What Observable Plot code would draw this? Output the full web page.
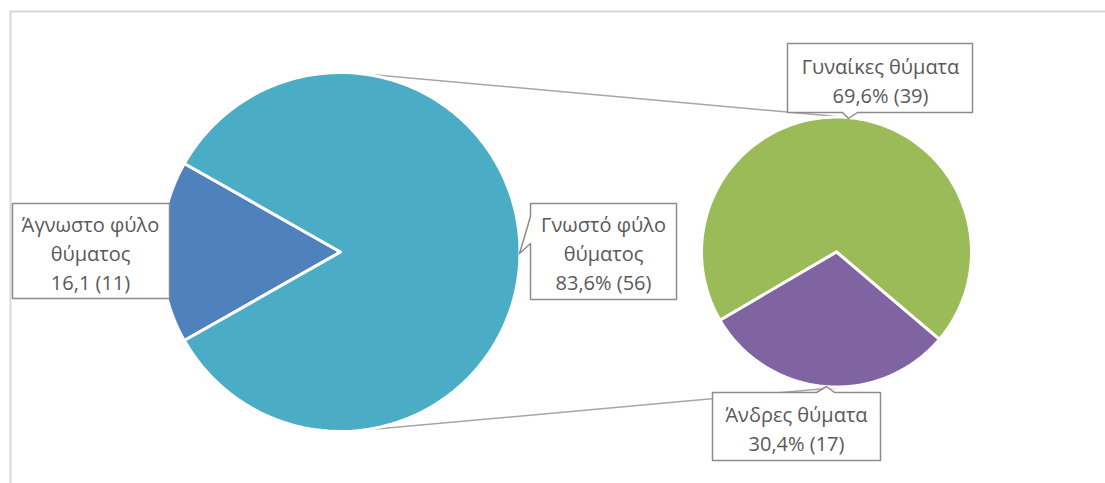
<!DOCTYPE html>
<html>
<head>
<meta charset="utf-8">
<script src="https://cdn.jsdelivr.net/npm/d3@7"></script>
<script src="https://cdn.jsdelivr.net/npm/@observablehq/plot@0.6"></script>
<style>
  html, body { margin: 0; padding: 0; background: #fff; }
  #chart svg { display: block; }
</style>
</head>
<body>
<div id="chart"></div>
<script>
// ---- data ----
const mainCategories = ["Άγνωστο φύλο\nθύματος", "Γνωστό φύλο\nθύματος"];
const mainCounts = [11, 56];
const mainPercentLabels = ["16,1", "83,6%"];
const subCategories = ["Γυναίκες θύματα", "Άνδρες θύματα"];
const subCounts = [39, 17];
const subPercentLabels = ["69,6%", "30,4%"];
const mainColors = ["#4f81bd", "#4bacc6"];
const subColors = ["#9bbb59", "#8064a2"];

// ---- layout ----
const W = 1105, H = 483;
const C1 = {x: 340, y: 251.5, r: 179.5};
const C2 = {x: 836, y: 251.5, r: 135};
const textColor = "#595959";
const boxStroke = "#8c8c8c";
const font = "Open Sans";
const fs = 20;

function slices(counts, colors, c, startAngle) {
  const arcs = d3.pie().sort(null).startAngle(startAngle).endAngle(startAngle + 2 * Math.PI)(counts);
  return arcs.map((a, i) => {
    const n = 160;
    const pts = [{x: c.x, y: c.y}];
    for (let k = 0; k <= n; k++) {
      const t = a.startAngle + (a.endAngle - a.startAngle) * k / n;
      pts.push({x: c.x + c.r * Math.sin(t), y: c.y - c.r * Math.cos(t)});
    }
    pts.push({x: c.x, y: c.y});
    return {pts, color: colors[i]};
  });
}

const mainTotal = d3.sum(mainCounts);
const subTotal = d3.sum(subCounts);
// left pie: unknown-sex slice centred to the left
const mainStart = 1.5 * Math.PI - Math.PI * mainCounts[0] / mainTotal;
// right pie: men slice centred slightly left of bottom
const subStart = (185 / 180) * Math.PI - Math.PI * subCounts[1] / subTotal - 2 * Math.PI * subCounts[0] / subTotal;

const mainSlices = slices(mainCounts, mainColors, C1, mainStart);
const subSlices = slices(subCounts, subColors, C2, subStart);

// external tangent connector lines
const d = C2.x - C1.x;
const alpha = Math.asin((C1.r - C2.r) / d);
const connectors = [-1, 1].map(s => [
  {x: C1.x + C1.r * Math.sin(alpha), y: C1.y + s * C1.r * Math.cos(alpha)},
  {x: C2.x + C2.r * Math.sin(alpha), y: C2.y + s * C2.r * Math.cos(alpha)}
]);

// callout boxes (outline polygons)
function rectPts(x0, y0, x1, y1, pointer) {
  let pts = [{x: x0, y: y0}];
  if (pointer && pointer.side === "top") pts.push(...pointer.pts);
  pts.push({x: x1, y: y0}, {x: x1, y: y1});
  if (pointer && pointer.side === "bottom") pts.push(...pointer.pts);
  pts.push({x: x0, y: y1});
  if (pointer && pointer.side === "left") pts.push(...pointer.pts);
  pts.push({x: x0, y: y0});
  return pts;
}
const boxes = [
  {pts: rectPts(12, 203, 169, 298), cx: 90, cy: 251,
   text: mainCategories[0] + "\n" + mainPercentLabels[0] + " (" + mainCounts[0] + ")"},
  {pts: rectPts(530, 203, 676, 299, {side: "left", pts: [{x: 530, y: 243}, {x: 519, y: 253}, {x: 530, y: 216}]}), cx: 603, cy: 251,
   text: mainCategories[1] + "\n" + mainPercentLabels[1] + " (" + mainCounts[1] + ")"},
  {pts: rectPts(787, 43, 972, 112, {side: "bottom", pts: [{x: 857, y: 112}, {x: 848, y: 118}, {x: 842, y: 112}]}), cx: 880, cy: 79,
   text: subCategories[0] + "\n" + subPercentLabels[0] + " (" + subCounts[0] + ")"},
  {pts: rectPts(712, 392, 880, 460, {side: "top", pts: [{x: 816, y: 392}, {x: 826, y: 386}, {x: 834, y: 392}]}), cx: 796, cy: 427,
   text: subCategories[1] + "\n" + subPercentLabels[1] + " (" + subCounts[1] + ")"}
];

const marks = [
  // chart frame (top and left edges)
  Plot.line([{x: 10, y: 11}, {x: 1104, y: 11}], {x: "x", y: "y", stroke: "#d9d9d9", strokeWidth: 2}),
  Plot.line([{x: 10, y: 11}, {x: 10, y: 483}], {x: "x", y: "y", stroke: "#d9d9d9", strokeWidth: 2}),
  ...connectors.map(c => Plot.line(c, {x: "x", y: "y", stroke: "#a6a6a6", strokeWidth: 1.5})),
  ...mainSlices.map(s => Plot.line(s.pts, {x: "x", y: "y", fill: s.color, stroke: "white", strokeWidth: 3, strokeLinejoin: "miter"})),
  ...subSlices.map(s => Plot.line(s.pts, {x: "x", y: "y", fill: s.color, stroke: "white", strokeWidth: 3, strokeLinejoin: "miter"})),
  ...boxes.map(b => Plot.line(b.pts, {x: "x", y: "y", fill: "white", stroke: boxStroke, strokeWidth: 1.5})),
  Plot.text(boxes, {x: "cx", y: "cy", text: "text", fill: textColor, fontSize: fs, fontFamily: font, lineHeight: 29 / fs, textAnchor: "middle", lineAnchor: "middle"})
];

const chart = Plot.plot({
  width: W, height: H, margin: 0,
  x: {domain: [0, W], range: [0, W], axis: null},
  y: {domain: [0, H], range: [0, H], axis: null},
  style: {background: "white", overflow: "visible"},
  marks
});
document.getElementById("chart").appendChild(chart);
</script>
</body>
</html>
